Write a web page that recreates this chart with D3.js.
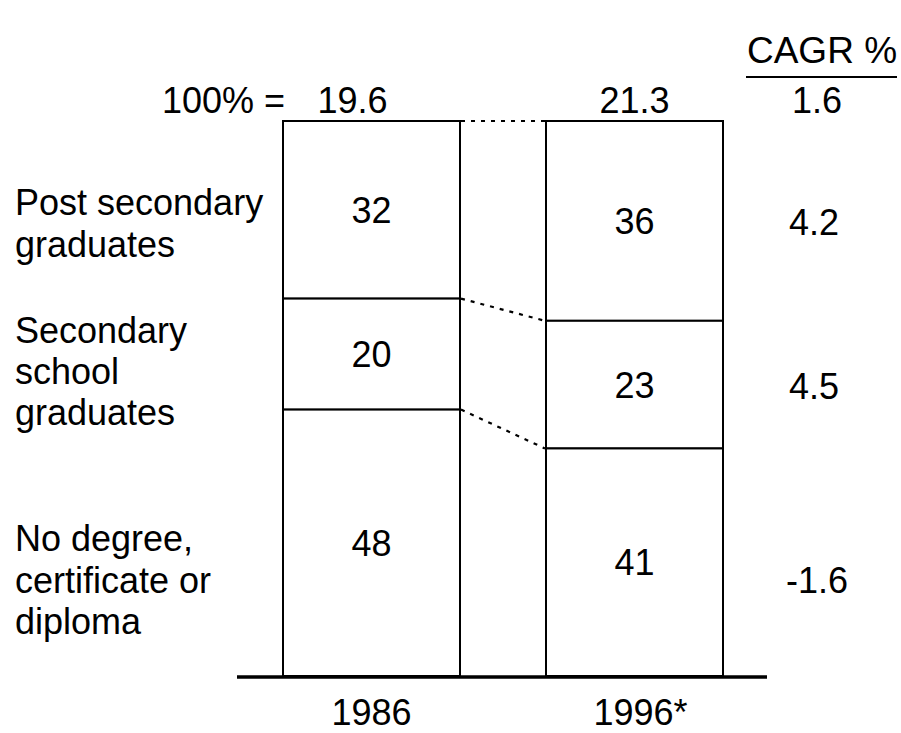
<!DOCTYPE html>
<html><head><meta charset="utf-8">
<script src="https://cdn.jsdelivr.net/npm/d3@7"></script>
<style>body{margin:0;background:#fff}text{font-family:"Liberation Sans",Arial,sans-serif;fill:#000}</style>
</head><body>
<svg id="c" width="901" height="733"></svg>
<script>
const years = ["1986", "1996*"];
const totals = ["19.6", "21.3"];
const categories = [["Post secondary","graduates"],["Secondary","school","graduates"],["No degree,","certificate or","diploma"]];
const share1986 = [32, 20, 48];
const share1996 = [36, 23, 41];
const cagr = ["4.2", "4.5", "-1.6"];
const cagrTotal = "1.6";

const svg = d3.select("#c");
const fs = 36;
const capOff = 0.358 * fs;
const y = d3.scaleLinear().domain([0,100]).range([676,121]);
const x = d3.scaleBand().domain(years).range([283,723]).paddingInner(0.327).paddingOuter(0);
const shares = [share1986, share1996];

function txt(xp, yc, s, anchor, size){
  const f = size || fs;
  return svg.append("text").attr("x",xp).attr("y",yc+0.358*f)
    .attr("text-anchor",anchor||"middle").attr("font-size",f).text(s);
}

// stacked segments (category 0 at top)
years.forEach((yr,i)=>{
  let cum = 100;
  shares[i].forEach((v,j)=>{
    const top = cum, bot = cum - v;
    cum = bot;
    svg.append("rect").attr("x",x(yr)).attr("y",y(top)).attr("width",x.bandwidth())
      .attr("height",y(bot)-y(top)).attr("fill","#fff").attr("stroke","#000").attr("stroke-width",2);
    txt(x(yr)+x.bandwidth()/2, (y(top)+y(bot))/2, v);
  });
});

// dotted connectors between segment boundaries
let c1 = 100, c2 = 100;
const conn = [[c1,c2]];
share1986.forEach((v,j)=>{ c1 -= share1986[j]; c2 -= share1996[j]; if(j<share1986.length-1) conn.push([c1,c2]); });
conn.forEach(([a,b])=>{
  svg.append("line").attr("x1",x(years[0])+x.bandwidth()+1).attr("y1",y(a))
    .attr("x2",x(years[1])-1).attr("y2",y(b)).attr("stroke","#000").attr("stroke-width",2.2)
    .attr("stroke-dasharray","4,6");
});

// baseline
svg.append("line").attr("x1",237).attr("x2",767).attr("y1",677).attr("y2",677).attr("stroke","#000").attr("stroke-width",3.5);

// year labels
years.forEach(yr=>{
  txt(x(yr)+x.bandwidth()/2+(yr.endsWith("*")?6:0), 712, yr);
});

// totals
txt(285, 100, "100% =", "end");
totals.forEach((t,i)=>{
  txt(x(years[i])+x.bandwidth()/2-(i===0?19:0), 100, t);
});

// CAGR column
const cx = 820;
txt(822, 50, "CAGR %", "middle", 37);
svg.append("line").attr("x1",746).attr("x2",897).attr("y1",77).attr("y2",77).attr("stroke","#000").attr("stroke-width",2);
txt(817, 100, cagrTotal);
const cagrY = [222, 386, 580];
cagr.forEach((c,i)=>{ txt(cx-6+(c.startsWith("-")?3:0), cagrY[i], c); });

// category labels
const labelCenters = [[202,244],[330,371,412],[538,580,621]];
categories.forEach((lines,i)=>{
  lines.forEach((l,k)=>{ txt(15, labelCenters[i][k], l, "start"); });
});
</script>
</body></html>
